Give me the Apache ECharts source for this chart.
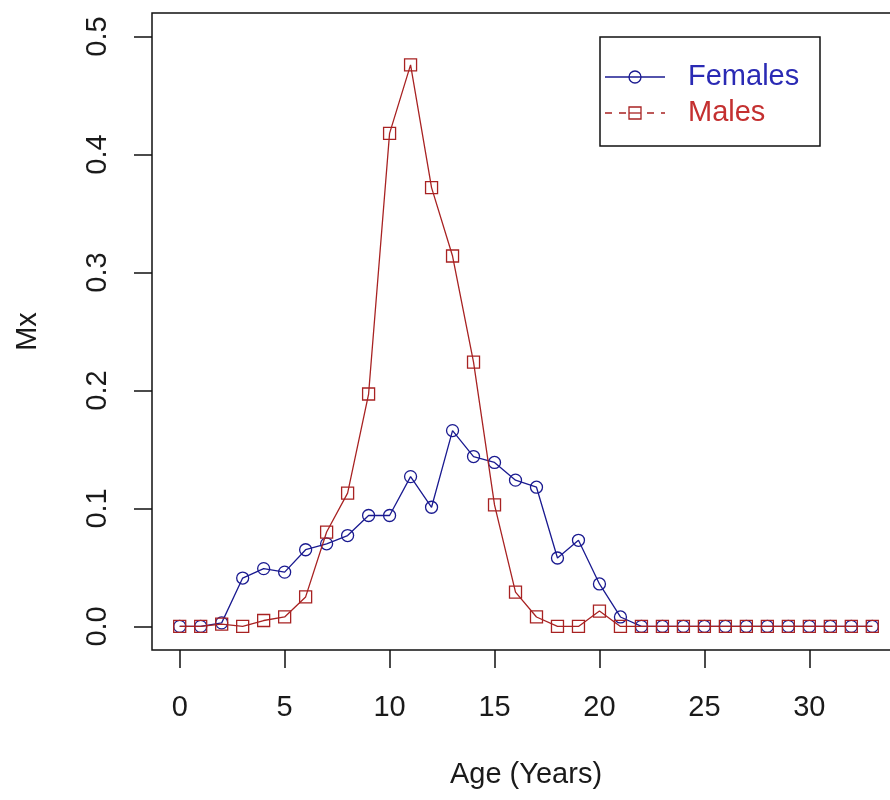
<!DOCTYPE html>
<html>
<head>
<meta charset="utf-8">
<script src="https://cdn.jsdelivr.net/npm/echarts@6/dist/echarts.min.js"></script>
<style>
html,body{margin:0;padding:0;background:#fff;}
#chart{width:890px;height:800px;}
</style>
</head>
<body>
<div id="chart"></div>
<script>
var ages = [0,1,2,3,4,5,6,7,8,9,10,11,12,13,14,15,16,17,18,19,20,21,22,23,24,25,26,27,28,29,30,31,32,33];
var females = [0,0,0.003,0.041,0.049,0.046,0.065,0.070,0.077,0.094,0.094,0.127,0.101,0.166,0.144,0.139,0.124,0.118,0.058,0.073,0.036,0.008,0,0,0,0,0,0,0,0,0,0,0,0];
var males = [0,0,0.002,0,0.005,0.008,0.025,0.080,0.113,0.197,0.418,0.476,0.372,0.314,0.224,0.103,0.029,0.008,0,0,0.013,0,0,0,0,0,0,0,0,0,0,0,0,0];
var xTicks = [0,5,10,15,20,25,30];
var yTicks = [0,0.1,0.2,0.3,0.4,0.5];
var seriesNames = ['Females','Males'];

var blue = '#1a1a90';
var red = '#a82222';
var font = 'Liberation Sans, Arial, sans-serif';

function pairs(ys){ return ages.map(function(a,i){ return [a, ys[i]]; }); }

var chart = echarts.init(document.getElementById('chart'), null, {renderer:'canvas'});
chart.setOption({
  animation:false,
  backgroundColor:'#fff',
  grid:{left:152, right:-10, top:13, bottom:150, containLabel:false, outerBoundsMode:'none',
        show:true, borderColor:'#111', borderWidth:1.5, backgroundColor:'transparent'},
  xAxis:{
    type:'value', min:-1.32, max:34.32,
    name:'Age (Years)', nameLocation:'middle', nameGap:110,
    nameTextStyle:{fontFamily:font, fontSize:29, color:'#1a1a1a'},
    axisLine:{show:false, onZero:false},
    axisTick:{show:true, customValues:xTicks, length:18, inside:false, lineStyle:{color:'#111', width:1.5}},
    axisLabel:{customValues:xTicks, margin:43, fontFamily:font, fontSize:29, color:'#1a1a1a'},
    splitLine:{show:false}
  },
  yAxis:{
    type:'value', min:-0.02, max:0.52,
    name:'Mx', nameLocation:'middle', nameGap:110, nameRotate:90,
    nameTextStyle:{fontFamily:font, fontSize:29, color:'#1a1a1a'},
    axisLine:{show:false, onZero:false},
    axisTick:{show:true, customValues:yTicks, length:18, inside:false, lineStyle:{color:'#111', width:1.5}},
    axisLabel:{customValues:yTicks, rotate:90, margin:40, fontFamily:font, fontSize:29, color:'#1a1a1a',
      formatter:function(v){ return v.toFixed(1); }},
    splitLine:{show:false}
  },
  series:[
    {name:seriesNames[0], type:'line', data:pairs(females), symbol:'circle', symbolSize:12,
     lineStyle:{color:blue, width:1.3}, itemStyle:{color:'transparent', borderColor:blue, borderWidth:1.3}, z:2},
    {name:seriesNames[1], type:'line', data:pairs(males), symbol:'rect', symbolSize:12,
     lineStyle:{color:red, width:1.3}, itemStyle:{color:'transparent', borderColor:red, borderWidth:1.3}, z:3}
  ],
  graphic:[
    {type:'rect', shape:{x:600, y:37, width:220, height:109}, style:{fill:'#fff', stroke:'#111', lineWidth:1.5}, z:10},
    {type:'line', shape:{x1:605, y1:77, x2:665, y2:77}, style:{stroke:blue, lineWidth:1.3}, z:11},
    {type:'circle', shape:{cx:635, cy:77, r:6}, style:{fill:'none', stroke:blue, lineWidth:1.3}, z:11},
    {type:'text', x:688, y:77, style:{text:seriesNames[0], fontFamily:font, fontSize:29, fill:'#2a2ab4', verticalAlign:'middle', align:'left'}, z:11},
    {type:'line', shape:{x1:605, y1:113, x2:665, y2:113}, style:{stroke:red, lineWidth:1.3, lineDash:[7,7]}, z:11},
    {type:'rect', shape:{x:629, y:107, width:12, height:12}, style:{fill:'#fff', stroke:red, lineWidth:1.3}, z:11},
    {type:'line', shape:{x1:629, y1:113, x2:641, y2:113}, style:{stroke:red, lineWidth:1.3}, z:12},
    {type:'text', x:688, y:113, style:{text:seriesNames[1], fontFamily:font, fontSize:29, fill:'#c43030', verticalAlign:'middle', align:'left'}, z:11}
  ]
});
</script>
</body>
</html>
